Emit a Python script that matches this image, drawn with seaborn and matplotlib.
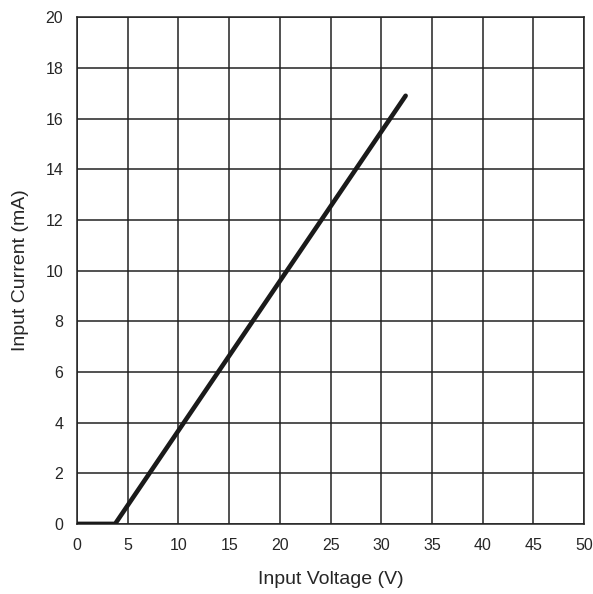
import numpy as np
import pandas as pd
import seaborn as sns
import matplotlib.pyplot as plt

sns.set_style("white")
plt.rcParams['font.family'] = ['Liberation Sans', 'DejaVu Sans']

# curve
voltage = [0.0, 3.75, 32.4]
current = [0.0, 0.0, 16.9]
x_ticks = list(range(0, 51, 5))
y_ticks = list(range(0, 21, 2))

df = pd.DataFrame({'Voltage': voltage, 'Current': current})

fig = plt.figure(figsize=(5.93, 5.94), dpi=100)
ax = fig.add_axes([0.130, 0.118, 0.855, 0.853])

sns.lineplot(x='Voltage', y='Current', data=df, ax=ax, color='#1a1a1a',
             linewidth=3.3, sort=False, zorder=3)

ax.set_xlim(0, 50)
ax.set_ylim(0, 20)
ax.set_xticks(x_ticks)
ax.set_yticks(y_ticks)
ax.grid(True, color='#222222', linewidth=1.1)
for s in ax.spines.values():
    s.set_color('#222222')
    s.set_linewidth(1.1)
ax.tick_params(axis='both', length=0, labelsize=11.5, pad=10)

ax.set_xlabel('Input Voltage (V)', fontsize=14, labelpad=13)
ax.set_ylabel('Input Current (mA)', fontsize=14, labelpad=12)

fig.savefig('out.png', dpi=100)
